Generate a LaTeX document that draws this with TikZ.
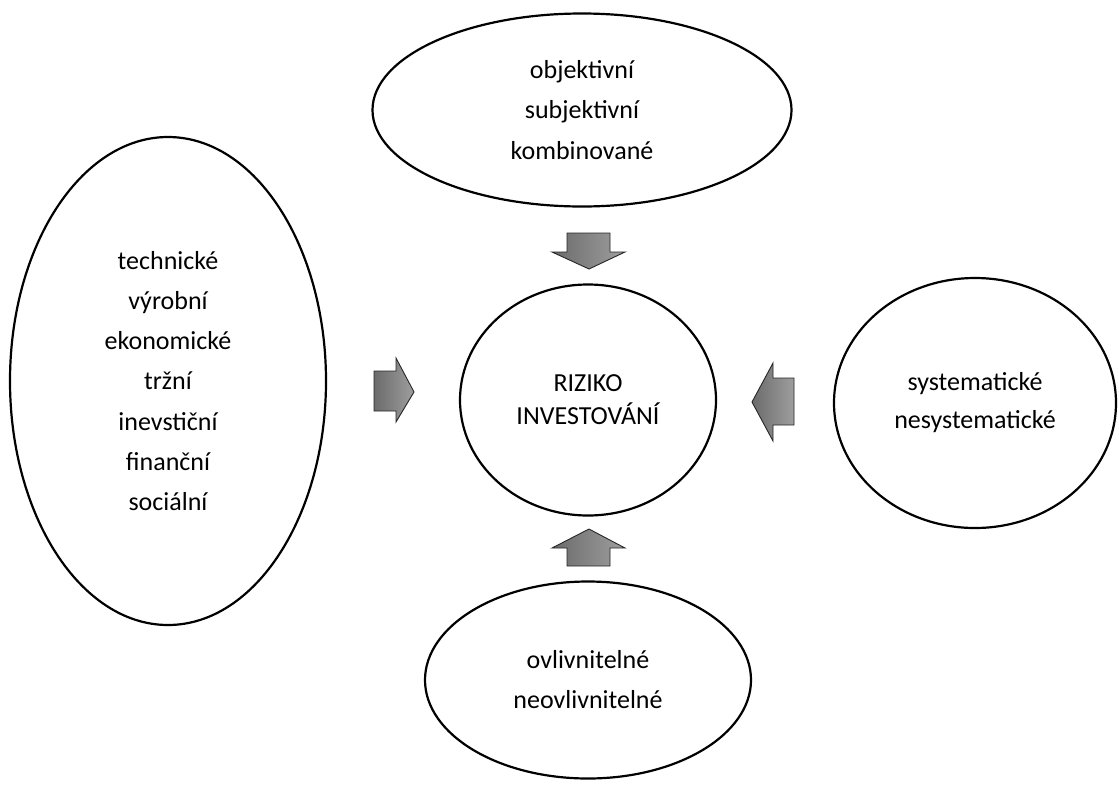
\documentclass[tikz,border=0pt]{standalone}
\usepackage{fontspec}
\setmainfont{Carlito}
\usetikzlibrary{shapes.geometric}
\tikzset{
  ell/.style={draw=black, line width=2.2pt, ellipse, inner sep=0pt, align=center,
    font=\fontsize{26}{40.3}\selectfont},
  blockarrow/.style={draw=black!85, line width=0.9pt, line join=miter,
    left color=black!58, right color=black!38}
}
\begin{document}
\begin{tikzpicture}[x=1pt,y=-1pt]
\useasboundingbox (0,0) rectangle (1119,785);
\node[ell, minimum width=419pt, minimum height=193pt] (top) at (582,110) {objektivní\\subjektivní\\kombinované};
\node[ell, minimum width=316pt, minimum height=488pt] (left) at (168,381) {technické\\výrobní\\ekonomické\\tržní\\inevstiční\\finanční\\sociální};
\node[ell, minimum width=256pt, minimum height=231pt, font=\fontsize{26}{33}\selectfont] (center) at (588,400) {RIZIKO\\INVESTOVÁNÍ};
\node[ell, minimum width=282pt, minimum height=250pt, font=\fontsize{26}{38}\selectfont] (right) at (975,403) {systematické\\nesystematické};
\node[ell, minimum width=326pt, minimum height=197pt, font=\fontsize{26}{40}\selectfont] (bottom) at (588,680) {ovlivnitelné\\neovlivnitelné};
% block arrows
\path[blockarrow] (567,233) -- (610,233) -- (610,252) -- (625,252) -- (589,269) -- (552,252) -- (567,252) -- cycle;
\path[blockarrow] (567,566) -- (610,566) -- (610,548) -- (625,548) -- (589,529) -- (552,548) -- (567,548) -- cycle;
\path[blockarrow] (374,371) -- (396,371) -- (396,358) -- (414,392) -- (396,422) -- (396,411) -- (374,411) -- cycle;
\path[blockarrow] (794,378) -- (773,378) -- (773,363) -- (752,402) -- (773,441) -- (773,425) -- (794,425) -- cycle;
\end{tikzpicture}
\end{document}
